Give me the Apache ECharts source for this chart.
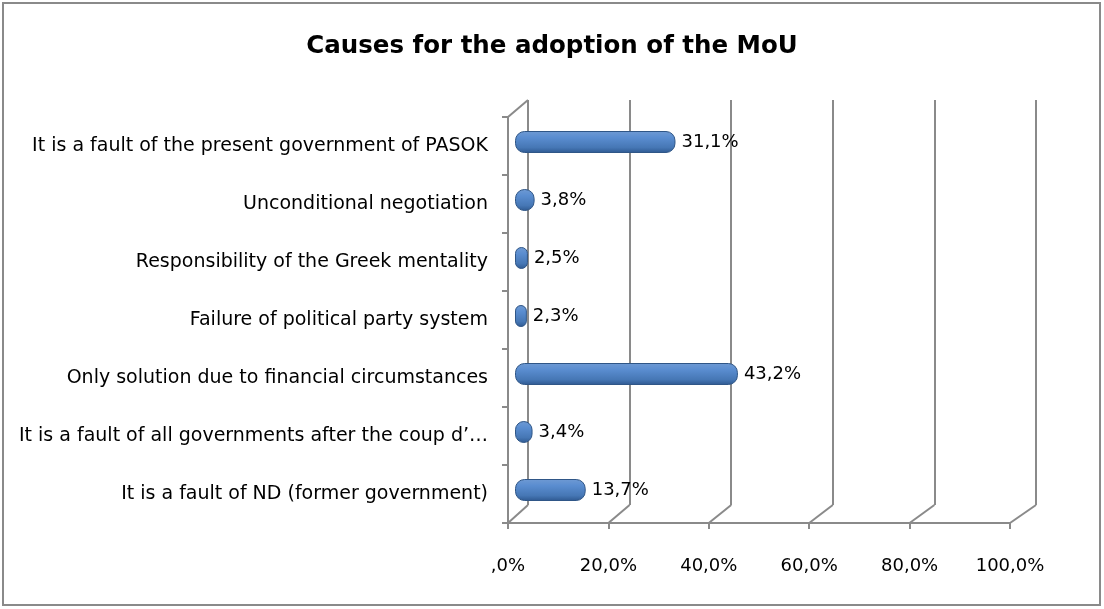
<!DOCTYPE html>
<html><head><meta charset="utf-8">
<script src="https://cdn.jsdelivr.net/npm/echarts@6/dist/echarts.min.js"></script>
<style>html,body{margin:0;padding:0;background:#fff}#c{width:1104px;height:609px}</style>
</head><body><div id="c"></div>
<script>
const categories = [
  "It is a fault of the present government of PASOK",
  "Unconditional negotiation",
  "Responsibility of the Greek mentality",
  "Failure of political party system",
  "Only solution due to financial circumstances",
  "It is a fault of all governments after the coup d’…",
  "It is a fault of ND (former government)"
];
const values = [31.1, 3.8, 2.5, 2.3, 43.2, 3.4, 13.7];
const xTicks = [0, 20, 40, 60, 80, 100];
const title = "Causes for the adoption of the MoU";

const FONT = "DejaVu Sans";
const GRAY = "#8a8a8a";
const fmt = v => (v === 0 ? ",0" : v.toFixed(1).replace(".", ",")) + "%";

const chart = echarts.init(document.getElementById('c'), null, {renderer: 'canvas'});
const option = {
  backgroundColor: '#fff',
  animation: false,
  title: {text: title, left: 'center', top: 29,
    textStyle: {fontFamily: FONT, fontSize: 24.5, fontWeight: 'bold', color: '#000'}},
  grid: [
    {left: 508, right: 94, top: 117, bottom: 86},
    {left: 528, right: 68, top: 100, bottom: 104},
    {left: 515, right: 73, top: 113, bottom: 90}
  ],
  xAxis: [
    {gridIndex: 0, type: 'value', min: 0, max: 100, interval: 20,
     axisLine: {show: true, lineStyle: {color: GRAY, width: 2}},
     axisTick: {show: true, length: 6, lineStyle: {color: GRAY, width: 2}},
     splitLine: {show: false},
     axisLabel: {margin: 34, fontFamily: FONT, fontSize: 18, color: '#000',
       formatter: v => fmt(v)}},
    {gridIndex: 1, type: 'value', min: 0, max: 100, interval: 20,
     axisLine: {show: false}, axisTick: {show: false}, axisLabel: {show: false},
     splitLine: {show: true, lineStyle: {color: GRAY, width: 2}}},
    {gridIndex: 2, type: 'value', min: 0, max: 100, show: false}
  ],
  yAxis: [
    {gridIndex: 0, type: 'category', data: categories, inverse: true,
     axisLine: {show: true, lineStyle: {color: GRAY, width: 2}},
     axisTick: {show: true, length: 6, lineStyle: {color: GRAY, width: 2}},
     axisLabel: {margin: 20, fontFamily: FONT, fontSize: 19, color: '#000'}},
    {gridIndex: 1, type: 'category', data: categories, inverse: true, show: false},
    {gridIndex: 2, type: 'category', data: categories, inverse: true, show: false}
  ],
  series: [{
    type: 'bar', xAxisIndex: 2, yAxisIndex: 2, data: values, barWidth: 22,
    itemStyle: {
      borderRadius: 9,
      borderColor: '#2f5687', borderWidth: 1,
      color: new echarts.graphic.LinearGradient(0, 0, 0, 1, [
        {offset: 0, color: '#6f9ad3'},
        {offset: 0.3, color: '#5a8dd0'},
        {offset: 0.75, color: '#4677b5'},
        {offset: 1, color: '#2e5890'}
      ])
    },
    label: {show: true, position: 'right', distance: 6, fontFamily: FONT, fontSize: 18, color: '#000',
      formatter: p => p.value.toFixed(1).replace('.', ',') + '%'}
  }]
};
chart.setOption(option);

// 3D wall/floor connectors computed from the axes
const g = [];
g.push({type: 'rect', shape: {x: 3, y: 3, width: 1097, height: 602},
  style: {fill: 'none', stroke: GRAY, lineWidth: 2}, silent: true});
xTicks.forEach(t => {
  const f = chart.convertToPixel({xAxisIndex: 0, yAxisIndex: 0}, [t, categories[categories.length-1]]);
  const b = chart.convertToPixel({xAxisIndex: 1, yAxisIndex: 1}, [t, categories[categories.length-1]]);
  const fy = 609 - 86, by = 609 - 104;
  g.push({type: 'line', shape: {x1: f[0], y1: fy, x2: b[0], y2: by},
    style: {stroke: GRAY, lineWidth: 2}, silent: true});
});
const f0 = chart.convertToPixel({xAxisIndex: 0, yAxisIndex: 0}, [0, categories[0]]);
const b0 = chart.convertToPixel({xAxisIndex: 1, yAxisIndex: 1}, [0, categories[0]]);
g.push({type: 'line', shape: {x1: f0[0], y1: 117, x2: b0[0], y2: 100},
  style: {stroke: GRAY, lineWidth: 2}, silent: true});
chart.setOption({graphic: g});
</script></body></html>
